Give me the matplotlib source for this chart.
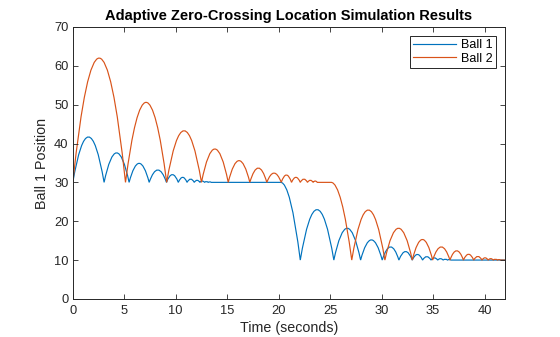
import matplotlib
matplotlib.use("Agg")
import matplotlib.pyplot as plt
from matplotlib.path import Path
from matplotlib.patches import PathPatch
from matplotlib.lines import Line2D

plt.rcParams['font.family'] = ['Liberation Sans', 'DejaVu Sans']

# floor levels (ledge, then ground)
floor_high = 30
floor_low = 10
t_end = 42

# ball 1: floor-contact times and peak heights of each bounce
ball1_hit1 = [0, 3.04, 5.47, 7.42, 9.1, 10.25, 11.1, 11.8, 12.35, 12.8, 13.15, 13.45]
ball1_peak1 = [41.7, 37.6, 34.9, 33.2, 32.0, 31.3, 30.85, 30.55, 30.35, 30.22, 30.14]
ball1_drop = [20.2, 22.1]
ball1_hit2 = [22.1, 25.36, 27.96, 30.06, 31.68, 32.98, 33.98, 34.8, 35.45, 35.98, 36.4, 36.74]
ball1_peak2 = [23.0, 18.2, 15.2, 13.4, 12.2, 11.45, 10.9, 10.58, 10.37, 10.24, 10.15]

# ball 2
ball2_hit1 = [0, 5.12, 9.12, 12.5, 15.1, 17.2, 18.85, 20.25, 21.25, 22.1, 22.8, 23.35, 23.75]
ball2_peak1 = [62.0, 50.6, 43.3, 38.6, 35.6, 33.7, 32.4, 31.9, 31.3, 30.85, 30.55, 30.35]
ball2_drop = [25.1, 27.1]
ball2_hit2 = [27.1, 30.32, 32.98, 34.96, 36.64, 37.95, 38.95, 39.75, 40.35, 40.85, 41.25, 41.55]
ball2_peak2 = [22.9, 18.2, 15.3, 13.4, 12.4, 11.5, 10.95, 10.6, 10.38, 10.24, 10.15]

c1 = '#0072BD'
c2 = '#D95319'


def bounce_path(hit1, peak1, drop, hit2, peak2):
    # each bounce is a parabola -> quadratic bezier, control point at twice the peak height
    verts = [(hit1[0], floor_high)]
    codes = [Path.MOVETO]
    for i in range(len(peak1)):
        mid = (hit1[i] + hit1[i + 1]) / 2
        verts += [(mid, 2 * peak1[i] - floor_high), (hit1[i + 1], floor_high)]
        codes += [Path.CURVE3, Path.CURVE3]
    verts.append((drop[0], floor_high))
    codes.append(Path.LINETO)
    # fall off the ledge: half parabola
    verts += [((drop[0] + drop[1]) / 2, floor_high), (drop[1], floor_low)]
    codes += [Path.CURVE3, Path.CURVE3]
    for i in range(len(peak2)):
        mid = (hit2[i] + hit2[i + 1]) / 2
        verts += [(mid, 2 * peak2[i] - floor_low), (hit2[i + 1], floor_low)]
        codes += [Path.CURVE3, Path.CURVE3]
    verts.append((t_end, floor_low))
    codes.append(Path.LINETO)
    return Path(verts, codes)


fig = plt.figure(figsize=(5.6, 3.37), dpi=100)
ax = fig.add_axes([0.130, 0.113, 0.772, 0.807])

ax.add_patch(PathPatch(bounce_path(ball1_hit1, ball1_peak1, ball1_drop, ball1_hit2, ball1_peak2),
                       fill=False, edgecolor=c1, lw=0.85))
ax.add_patch(PathPatch(bounce_path(ball2_hit1, ball2_peak1, ball2_drop, ball2_hit2, ball2_peak2),
                       fill=False, edgecolor=c2, lw=0.85))

ax.set_xlim(0, t_end)
ax.set_ylim(0, 70)
ax.set_xticks(range(0, 41, 5))
ax.set_yticks(range(0, 71, 10))
ax.tick_params(direction='in', top=True, right=True, length=3.5, width=0.6,
               labelsize=9.3, colors='#262626')
ax.tick_params(axis='x', pad=4.5)
ax.tick_params(axis='y', pad=3)
for s in ax.spines.values():
    s.set_linewidth(0.7)
    s.set_color('#262626')

ax.set_title('Adaptive Zero-Crossing Location Simulation Results', fontsize=10.5,
             fontweight='bold', color='#000000', pad=5)
ax.set_xlabel('Time (seconds)', fontsize=10.3, color='#262626', labelpad=2.5)
ax.set_ylabel('Ball 1 Position', fontsize=10.3, color='#262626', labelpad=4)

handles = [Line2D([], [], color=c1, lw=0.85), Line2D([], [], color=c2, lw=0.85)]
leg = ax.legend(handles, ['Ball 1', 'Ball 2'], loc='upper right', fontsize=9,
                frameon=True, fancybox=False, edgecolor='#262626', framealpha=1,
                borderpad=0.3, handlelength=3.4, handletextpad=0.4, labelspacing=0.1,
                borderaxespad=0.7)
leg.get_frame().set_linewidth(0.7)

fig.savefig('out.png', dpi=100)
